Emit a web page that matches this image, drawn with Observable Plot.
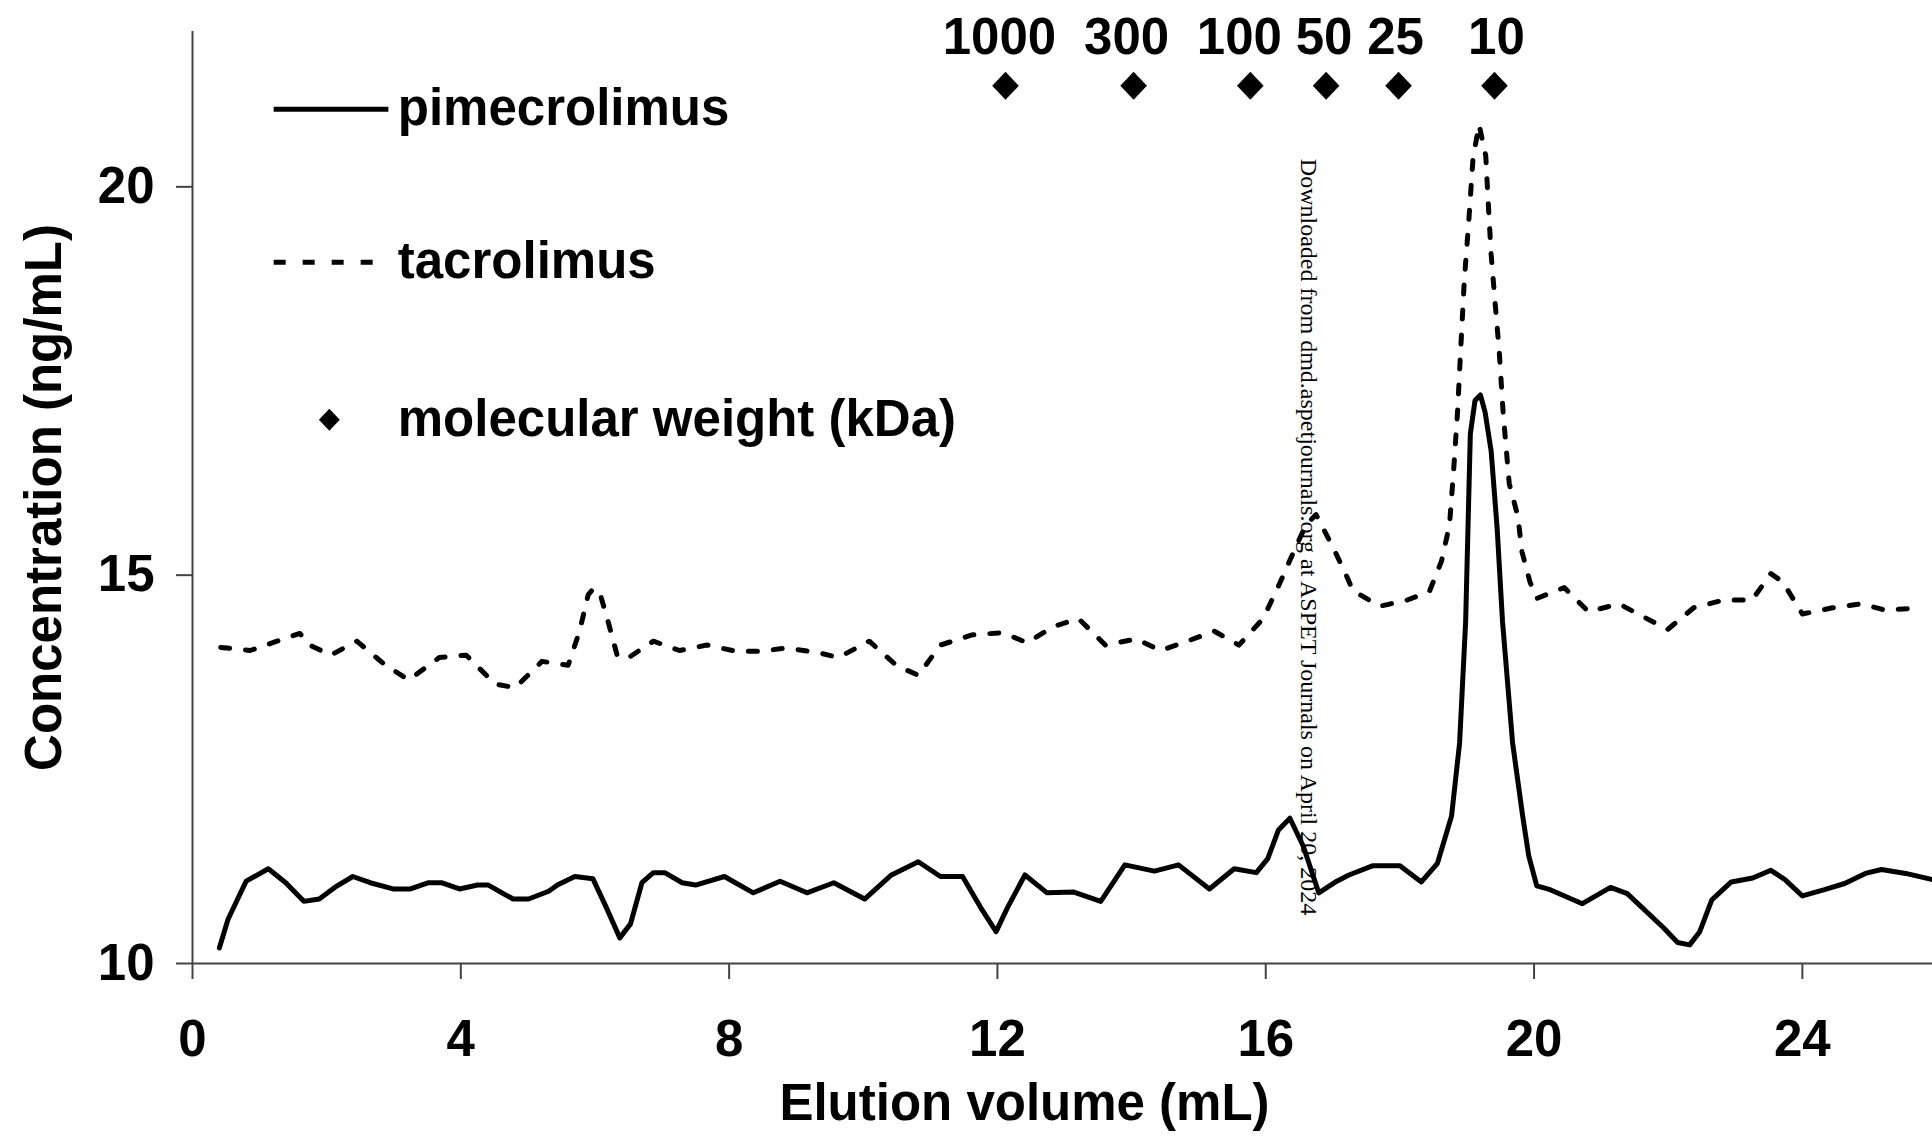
<!DOCTYPE html>
<html>
<head>
<meta charset="utf-8">
<script src="https://cdn.jsdelivr.net/npm/d3@7"></script>
<script src="https://cdn.jsdelivr.net/npm/@observablehq/plot@0.6"></script>
<style>
  html, body { margin: 0; padding: 0; background: #fff; }
  #chart svg { display: block; }
</style>
</head>
<body>
<div id="chart"></div>
<script>
// ---------- data ----------
const pimeVolume = [0.4,0.53,0.8,1.13,1.39,1.66,1.89,2.12,2.39,2.65,2.99,3.25,3.52,3.71,3.98,4.25,4.41,4.78,5.01,5.31,5.44,5.7,5.97,6.17,6.37,6.53,6.7,6.87,7.04,7.3,7.5,7.93,8.36,8.76,9.16,9.56,10.02,10.42,10.82,11.15,11.48,11.75,11.98,12.15,12.41,12.74,13.14,13.54,13.9,14.34,14.7,15.16,15.53,15.86,16.03,16.19,16.36,16.56,16.79,17.06,17.24,17.6,18.0,18.32,18.56,18.77,18.89,18.98,19.05,19.12,19.2,19.27,19.36,19.45,19.53,19.68,19.83,19.92,20.04,20.24,20.72,21.14,21.39,21.93,22.14,22.32,22.47,22.65,22.94,23.26,23.53,23.74,24.0,24.33,24.63,24.94,25.18,25.54,25.94];
const pimeConc = [10.2,10.57,11.06,11.22,11.04,10.8,10.83,10.98,11.12,11.04,10.96,10.96,11.04,11.04,10.96,11.01,11.01,10.83,10.83,10.93,11.01,11.12,11.09,10.72,10.33,10.51,11.04,11.17,11.17,11.04,11.01,11.12,10.91,11.06,10.91,11.04,10.83,11.14,11.31,11.12,11.12,10.72,10.41,10.72,11.14,10.91,10.92,10.8,11.27,11.19,11.27,10.96,11.22,11.17,11.35,11.72,11.87,11.51,10.91,11.06,11.14,11.26,11.26,11.05,11.29,11.9,12.84,14.4,16.82,17.25,17.32,17.1,16.6,15.6,14.4,12.84,11.9,11.39,11.0,10.95,10.77,10.98,10.9,10.46,10.27,10.24,10.41,10.82,11.05,11.1,11.2,11.08,10.87,10.95,11.03,11.16,11.21,11.16,11.08];

const tacroVolume = [0.42,0.86,1.26,1.6,1.75,2.06,2.45,2.85,3.22,3.68,4.08,4.51,4.81,5.21,5.6,5.77,5.9,5.98,6.07,6.2,6.33,6.47,6.87,7.26,7.67,8.1,8.46,8.83,9.29,9.63,10.09,10.49,10.82,11.15,11.62,12.08,12.44,12.84,13.21,13.61,14.07,14.43,14.77,15.23,15.6,15.96,16.19,16.39,16.6,16.75,16.99,17.19,17.3,17.7,18.11,18.44,18.62,18.74,18.8,18.86,18.91,18.96,19.03,19.09,19.18,19.28,19.31,19.36,19.42,19.48,19.54,19.63,19.76,19.82,19.94,20.04,20.45,20.81,21.27,21.66,21.99,22.38,22.83,23.25,23.53,23.71,24.0,24.45,24.87,25.24,25.75];
const tacroConc = [14.07,14.03,14.15,14.25,14.1,13.97,14.15,13.86,13.65,13.94,13.97,13.6,13.55,13.89,13.84,14.28,14.75,14.83,14.78,14.39,13.97,13.92,14.15,14.03,14.1,14.02,14.02,14.06,14.01,13.94,14.15,13.84,13.71,14.1,14.23,14.26,14.13,14.34,14.44,14.1,14.18,14.03,14.13,14.28,14.1,14.44,14.86,15.25,15.65,15.78,15.38,15.02,14.8,14.6,14.68,14.79,15.18,15.65,16.34,17.11,17.97,18.79,19.6,20.37,20.8,20.4,19.9,19.13,18.5,17.89,17.08,16.18,15.75,15.3,14.91,14.7,14.84,14.53,14.63,14.45,14.3,14.58,14.68,14.68,15.02,14.91,14.5,14.58,14.63,14.55,14.58];

const markerVolume = [12.12, 14.03, 15.77, 16.9, 17.98, 19.41];
const markerLabel = ["1000", "300", "100", "50", "25", "10"];

const xTicks = [0, 4, 8, 12, 16, 20, 24];
const yTicks = [10, 15, 20];

const seriesNames = ["pimecrolimus", "tacrolimus", "molecular weight (kDa)"];
const xLabel = "Elution volume (mL)";
const yLabel = "Concentration (ng/mL)";
const watermark = "Downloaded from dmd.aspetjournals.org at ASPET Journals on April 20, 2024";

// ---------- tables ----------
const pime = pimeVolume.map((v, i) => ({volume: v, conc: pimeConc[i]}));
const tacro = tacroVolume.map((v, i) => ({volume: v, conc: tacroConc[i]}));
const markers = markerVolume.map((v, i) => ({volume: v, kDa: markerLabel[i]}));

// ---------- layout / style ----------
const FONT = "'Liberation Sans', Arial, Helvetica, sans-serif";
const FS = 51;
const DASH = "9,16";
const LEGEND_DASH = "12,17";
const LW = 5;
const markerLevel = 21.3;
const markerLabelDx = [-6, -7, -11, -2, -3, 2];
const legendX1 = 1.21, legendX2 = 2.92, legendTextX = 3.06, legendSymX = 2.04;
const legendY = [21.0, 19.03, 17.0];

const diamond = {
  draw(ctx, size) {
    const r = Math.sqrt(size / Math.PI);
    const w = r * 0.95;
    ctx.moveTo(0, -r);
    ctx.lineTo(w, 0);
    ctx.lineTo(0, r);
    ctx.lineTo(-w, 0);
    ctx.closePath();
  }
};

const chart = Plot.plot({
  width: 1932,
  height: 1139,
  marginLeft: 192,
  marginRight: 0,
  marginTop: 31,
  marginBottom: 176,
  style: {fontFamily: FONT, background: "#fff", color: "#000", overflow: "visible"},
  x: {domain: [0, 25.94]},
  y: {domain: [10, 22]},
  marks: [
    Plot.axisX({ticks: xTicks, tickSize: 16, tickPadding: 40, fontSize: FS, fontWeight: "bold",
      stroke: "#444", strokeWidth: 2, fill: "#000", label: null}),
    Plot.axisY({ticks: yTicks, tickSize: 16, tickPadding: 22, fontSize: FS, fontWeight: "bold",
      stroke: "#444", strokeWidth: 2, fill: "#000", label: null}),
    Plot.ruleX([0], {stroke: "#444", strokeWidth: 2}),
    Plot.ruleY([10], {stroke: "#444", strokeWidth: 2}),

    // data
    Plot.line(tacro, {x: "volume", y: "conc", stroke: "#000", strokeWidth: LW, strokeDasharray: DASH}),
    Plot.line(pime, {x: "volume", y: "conc", stroke: "#000", strokeWidth: LW, strokeLinejoin: "round"}),
    Plot.dot(markers, {x: "volume", y: () => markerLevel, symbol: diamond, r: 14, fill: "#000", stroke: null}),
    ...markers.map((m, i) => Plot.text([m], {x: "volume", y: () => markerLevel, text: "kDa",
      dx: markerLabelDx[i], dy: -48, fontSize: FS, fontWeight: "bold", fill: "#000"})),

    // legend
    Plot.link([0], {x1: () => legendX1, x2: () => legendX2, y1: () => legendY[0], y2: () => legendY[0], stroke: "#000", strokeWidth: LW}),
    Plot.link([0], {x1: () => legendX1, x2: () => legendX2, y1: () => legendY[1], y2: () => legendY[1], stroke: "#000", strokeWidth: LW, strokeDasharray: LEGEND_DASH}),
    Plot.dot([0], {x: () => legendSymX, y: () => legendY[2], symbol: diamond, r: 11, fill: "#000", stroke: null}),
    Plot.text(seriesNames, {x: () => legendTextX, y: (d, i) => legendY[i], text: d => d, textAnchor: "start",
      fontSize: FS, fontWeight: "bold", fill: "#000"}),

    // axis titles
    Plot.text([xLabel], {frameAnchor: "bottom", text: d => d, textAnchor: "middle", lineAnchor: "middle",
      dx: -38, dy: 140, fontSize: FS, fontWeight: "bold", fill: "#000"}),
    Plot.text([yLabel], {frameAnchor: "left", text: d => d, rotate: -90, textAnchor: "middle", lineAnchor: "middle",
      dx: -148, fontSize: FS, fontWeight: "bold", fill: "#000"}),

    // watermark
    Plot.text([watermark], {x: () => 16.64, y: () => 20.36, text: d => d, rotate: 90, textAnchor: "start",
      fontFamily: "'Liberation Serif', 'Times New Roman', serif", fontSize: 24, fill: "#000"})
  ]
});

document.getElementById("chart").appendChild(chart);
</script>
</body>
</html>
